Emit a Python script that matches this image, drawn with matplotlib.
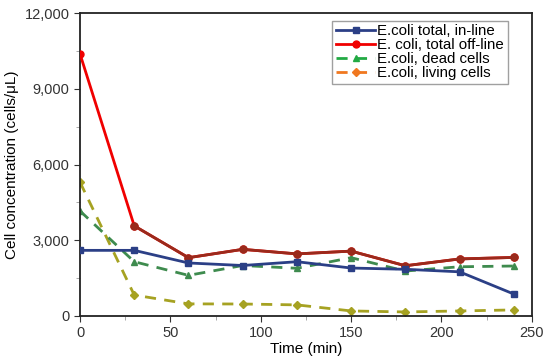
import numpy as np
import matplotlib.pyplot as plt
from matplotlib.ticker import MultipleLocator, FuncFormatter

plt.rcParams['font.family'] = ['Liberation Sans', 'DejaVu Sans']

# sampling times (min)
time_min = [0, 30, 60, 90, 120, 150, 180, 210, 240]

# cell concentrations (cells/uL)
total_inline = [2600, 2600, 2100, 2000, 2150, 1900, 1850, 1750, 870]
total_offline = [10380, 3570, 2310, 2640, 2460, 2570, 1990, 2260, 2320]
dead_cells = [4160, 2150, 1610, 2000, 1890, 2310, 1780, 1950, 1980]
living_cells = [5300, 830, 480, 475, 440, 200, 160, 200, 240]

fig = plt.figure(figsize=(5.5, 3.63), dpi=100)
ax = fig.add_axes([0.1455, 0.1295, 0.8215, 0.8345])

ax.plot(time_min, total_inline, '-s', color='#2B3F86', lw=2, ms=5,
        label='E.coli total, in-line', zorder=4)
ax.plot(time_min, total_offline, '-o', color='#F00000', lw=2, ms=5,
        label='E. coli, total off-line', zorder=3)
# the later part of the off-line curve prints darker in the original
ax.plot(time_min[1:], total_offline[1:], '-o', color='#9A2A1C', lw=2, ms=5,
        zorder=3)
ax.plot(time_min, dead_cells, '--^', color='#3E8B4E', lw=2, ms=5,
        dashes=(4, 3), label='E.coli, dead cells', zorder=2)
ax.plot(time_min, living_cells, '--D', color='#A6A222', lw=2, ms=4,
        dashes=(4, 3), label='E.coli, living cells', zorder=1)

ax.set_xlim(0, 250)
ax.set_ylim(0, 12000)
ax.xaxis.set_major_locator(MultipleLocator(50))
ax.xaxis.set_minor_locator(MultipleLocator(25))
ax.yaxis.set_major_locator(MultipleLocator(3000))
ax.yaxis.set_minor_locator(MultipleLocator(1500))
ax.yaxis.set_major_formatter(FuncFormatter(lambda v, p: f'{int(v):,}'))

for s in ax.spines.values():
    s.set_linewidth(1.3)
    s.set_color('#222222')
ax.tick_params(which='both', labelsize=10.5, colors='#333333', length=4)
ax.tick_params(which='minor', length=3, color='#999999')

ax.set_xlabel('Time (min)', fontsize=11, labelpad=1)
ax.set_ylabel('Cell concentration (cells/\u03bcL)', fontsize=11, labelpad=4)

h, l = ax.get_legend_handles_labels()
leg_colors = ['#2B3F86', '#F00000', '#22AA44', '#F07820']
leg = ax.legend(h, l, loc='upper right', bbox_to_anchor=(0.947, 0.975),
                fontsize=10.8, frameon=True, fancybox=False, handlelength=2.6,
                handletextpad=0.15, borderpad=0.25, labelspacing=0.0,
                borderaxespad=0)
leg.get_frame().set_edgecolor('#888888')
leg.get_frame().set_linewidth(1)
for line, c in zip(leg.get_lines(), leg_colors):
    line.set_color(c)
    line.set_markerfacecolor(c)
    line.set_markeredgecolor(c)

fig.savefig('out.png', dpi=100)
